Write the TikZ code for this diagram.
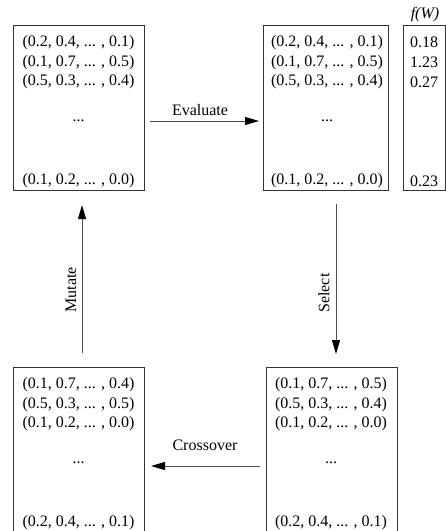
\documentclass[tikz,border=0pt]{standalone}
\usepackage{fontspec}
\setmainfont{Liberation Serif}
\usetikzlibrary{arrows.meta}
\begin{document}
\begin{tikzpicture}[x=1pt,y=-1pt,
  popbox/.style={draw=black!80, line width=1pt, minimum width=#1,
    minimum height=165pt, inner sep=0pt, anchor=north west},
  txt/.style={font=\fontsize{16}{19.4}\selectfont, inner sep=0pt},
  flow/.style={draw=black!70, line width=1pt,
    -{Triangle[length=14pt,width=8pt,color=black]}},
]
\path[use as bounding box, clip] (0,0) rectangle (446,531);

% population before evaluation
\node[popbox=131pt] (A) at (13,25) {};
\node[txt] (a1) at (78.5,42.7) {(0.2, 0.4, ... , 0.1)};
\node[txt] (a2) at (78.5,62.7) {(0.1, 0.7, ... , 0.5)};
\node[txt] (a3) at (78.5,82)   {(0.5, 0.3, ... , 0.4)};
\node[txt, anchor=base] (a4) at (78.5,121) {...};
\node[txt] (a5) at (78.5,181)  {(0.1, 0.2, ... , 0.0)};

% evaluated population
\node[popbox=125pt] (B) at (263,25) {};
\node[txt] (b1) at (327,42.7) {(0.2, 0.4, ... , 0.1)};
\node[txt] (b2) at (327,62.7) {(0.1, 0.7, ... , 0.5)};
\node[txt] (b3) at (327,82)   {(0.5, 0.3, ... , 0.4)};
\node[txt, anchor=base] (b4) at (327,121) {...};
\node[txt] (b5) at (327,181)  {(0.1, 0.2, ... , 0.0)};

% fitness values
\node[popbox=42pt] (F) at (403,25) {};
\node[txt] (fw) at (425,15) {\itshape f(W)};
\node[txt] (f1) at (424,42.7) {0.18};
\node[txt] (f2) at (424,62.7) {1.23};
\node[txt] (f3) at (424,82)   {0.27};
\node[txt] (f5) at (424,181)  {0.23};

% recombined population
\node[popbox=131pt] (C) at (13,367) {};
\node[txt] (c1) at (78.5,384.7) {(0.1, 0.7, ... , 0.4)};
\node[txt] (c2) at (78.5,404.7) {(0.5, 0.3, ... , 0.5)};
\node[txt] (c3) at (78.5,424)   {(0.1, 0.2, ... , 0.0)};
\node[txt, anchor=base] (c4) at (78.5,463) {...};
\node[txt] (c5) at (78.5,523)   {(0.2, 0.4, ... , 0.1)};

% selected population
\node[popbox=131pt] (D) at (266,367) {};
\node[txt] (d1) at (331,384.7) {(0.1, 0.7, ... , 0.5)};
\node[txt] (d2) at (331,404.7) {(0.5, 0.3, ... , 0.4)};
\node[txt] (d3) at (331,424)   {(0.1, 0.2, ... , 0.0)};
\node[txt, anchor=base] (d4) at (331,463) {...};
\node[txt] (d5) at (331,523)   {(0.2, 0.4, ... , 0.1)};

% arrow end points
\coordinate (ev0) at (150,121);
\coordinate (ev1) at (259,121);
\coordinate (se0) at (336,204);
\coordinate (se1) at (336,354);
\coordinate (cr0) at (260,466);
\coordinate (cr1) at (151,466);
\coordinate (mu0) at (82,353);
\coordinate (mu1) at (82,205);

% operator arrows
\draw[flow] (ev0) -- (ev1);
\draw[flow] (se0) -- (se1);
\draw[flow] (cr0) -- (cr1);
\draw[flow] (mu0) -- (mu1);

% operator labels
\node[txt, anchor=base] (lev) at (200,115) {Evaluate};
\node[txt, rotate=90] (lse) at (324,293) {Select};
\node[txt, anchor=base] (lcr) at (205,450) {Crossover};
\node[txt, rotate=90] (lmu) at (71,290) {Mutate};
\end{tikzpicture}
\end{document}
